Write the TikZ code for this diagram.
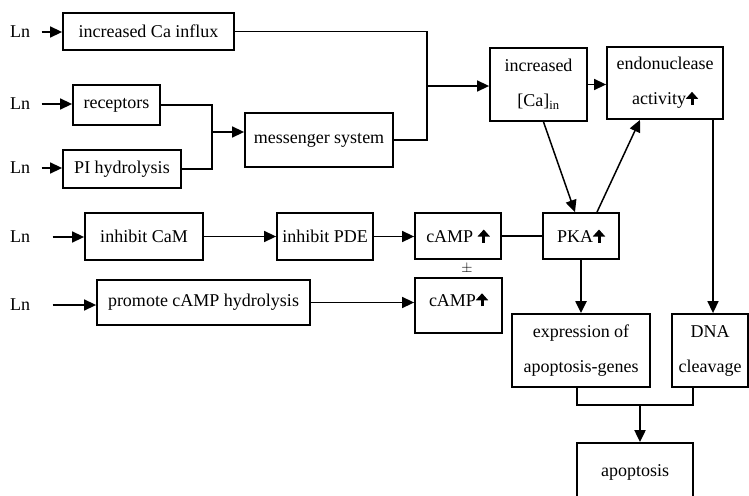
\documentclass[tikz,border=0pt]{standalone}
\usepackage{fontspec}
\setmainfont{Liberation Serif}
\usepackage{tikz}
\usetikzlibrary{arrows.meta}
\usetikzlibrary{positioning}

% thick up arrow used inside the boxes
\newcommand{\upar}{\tikz[baseline=0pt]\draw[line width=3pt,-{Triangle[length=7pt,width=12pt]}]
  (0pt,0pt) -- (0pt,13pt);}

\begin{document}
\begin{tikzpicture}[x=1pt,y=-1pt,
  every node/.style={font=\fontsize{18}{21}\selectfont},
  box/.style={draw,line width=1.8pt,inner sep=0pt,align=center},
  tall/.style={font=\fontsize{18}{35}\selectfont},
  link/.style={line width=1.5pt},
  arr/.style={line width=1.5pt,-{Triangle[length=12pt,width=11pt]}}]

  \useasboundingbox (0,0) rectangle (749,495);

  % ligand
  \node (ln1) at (20,32) {Ln};
  \node (ln2) at (20,104) {Ln};
  \node (ln3) at (20,168) {Ln};
  \node (ln4) at (20,237) {Ln};
  \node (ln5) at (20,305) {Ln};

  % calcium branch
  \node[box,minimum width=171pt,minimum height=37pt] (ca) at (148.5,31.5) {increased Ca influx};
  \node[box,minimum width=87pt,minimum height=40pt] (rec) at (116.5,105) {receptors};
  \node[box,minimum width=118pt,minimum height=38pt] (pi) at (122,169) {PI hydrolysis};
  \node[box,minimum width=148pt,minimum height=54pt] (msg) at (319,140) {messenger system};
  \node[box,tall,minimum width=97pt,minimum height=73pt] (inc) at (538.5,84.5)
    {increased\\{[Ca]}\textsubscript{in}};
  \node[box,tall,minimum width=116pt,minimum height=72pt] (endo) at (665,83)
    {endonuclease\\activity\upar};

  % cAMP branch
  \node[box,minimum width=118pt,minimum height=47pt] (cam) at (144,236.5) {inhibit CaM};
  \node[box,minimum width=96pt,minimum height=47pt] (pde) at (325,236.5) {inhibit PDE};
  \node[box,minimum width=86pt,minimum height=46pt] (camp1) at (458,236) {cAMP \upar};
  \node[box,minimum width=76pt,minimum height=46pt] (pka) at (581,236) {PKA\upar};
  \node[box,minimum width=213pt,minimum height=45pt] (prom) at (203.5,302.5) {promote cAMP hydrolysis};
  \node[box,minimum width=87pt,minimum height=55pt,text depth=13pt] (camp2) at (458.5,305.5) {cAMP\upar};
  \node[font=\fontsize{14}{14}\selectfont\bfseries,inner sep=0pt] (pm) at (467,269) {$\pm$};

  % outcome
  \node[box,tall,minimum width=138pt,minimum height=73pt] (expr) at (581,350.5)
    {expression of\\apoptosis-genes};
  \node[box,tall,minimum width=76pt,minimum height=73pt] (dna) at (710,350.5)
    {DNA\\cleavage};
  \node[box,minimum width=116pt,minimum height=58pt] (apo) at (635,472) {apoptosis};

  % connectors
  \draw[arr,shorten <=8pt] (ln1) -- (ln1 -| ca.west);
  \draw[arr,shorten <=8pt] (ln2) -- (ln2 -| rec.west);
  \draw[arr,shorten <=8pt] (ln3) -- (ln3 -| pi.west);
  \draw[arr,shorten <=19pt] (ln4) -- (ln4 -| cam.west);
  \draw[arr,shorten <=19pt] (ln5) -- (ln5 -| prom.west);

  \coordinate (jn) at (212,132);
  \draw[link] (rec.east) -| (jn);
  \draw[link] (pi.east) -| (jn);
  \draw[arr] (jn) -- (jn -| msg.west);

  \coordinate (bus) at (427,86);
  \draw[link] (ca.east) -| (bus) |- (msg.east);
  \draw[arr] (bus) -- (bus -| inc.west);
  \draw[arr] (inc.east) -- (inc.east -| endo.west);
  \draw[arr] ([xshift=5pt]inc.south) -- ([xshift=-6pt]pka.north);
  \draw[arr] ([xshift=16pt]pka.north) -- ([xshift=-25pt]endo.south);
  \draw[arr] ([xshift=3pt]endo.south -| dna.north) -- ([xshift=3pt]dna.north);

  \draw[arr] (cam) -- (pde);
  \draw[arr] (pde.east) -- (pde.east -| camp1.west);
  \draw[link] (camp1) -- (pka);
  \draw[arr] (prom.east) -- (prom.east -| camp2.west);

  \draw[arr,line width=2.2pt] (pka.south) -- (expr.north);
  \coordinate (jn2) at (640,405);
  \draw[link] ([xshift=-4pt]expr.south) |- (jn2)
    -| ([xshift=-17pt]dna.south);
  \draw[arr,line width=2pt] (jn2) -- (jn2 |- apo.north);
\end{tikzpicture}
\end{document}
